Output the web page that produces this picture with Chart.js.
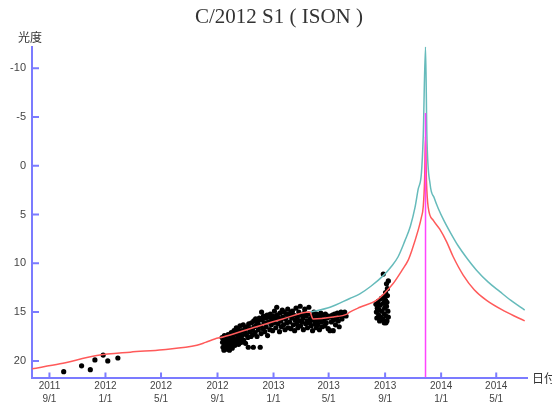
<!DOCTYPE html>
<html>
<head>
<meta charset="utf-8">
<script src="https://cdn.jsdelivr.net/npm/chart.js@4/dist/chart.umd.min.js"></script>
<style>
  html, body { margin: 0; padding: 0; background: #fff; }
  canvas { display: block; }
</style>
</head>
<body>
<canvas id="cometChart" width="552" height="404"></canvas>
<script>
// days counted from 2011-09-01, values are magnitudes
const tickDays = [0, 122, 243, 366, 488, 608, 731, 853, 973];
const tickYears = ["2011", "2012", "2012", "2012", "2013", "2013", "2013", "2014", "2014"];
const tickDates = ["9/1", "1/1", "5/1", "9/1", "1/1", "5/1", "9/1", "1/1", "5/1"];
const magTicks = [-10, -5, 0, 5, 10, 15, 20];

// red prediction curve
const redDays = [-38, 23, 103, 176, 247, 321, 340, 360, 378, 437, 508, 567, 574, 618, 648, 654, 676, 712, 748, 768, 781, 789, 803, 810, 814, 817, 819, 821, 825, 836, 850, 865, 879, 901, 925, 952, 991, 1035];
const redMags = [20.8, 20.3, 19.45, 19.1, 18.85, 18.4, 18.1, 17.75, 17.55, 16.7, 15.7, 15.0, 15.7, 15.5, 15.2, 15.0, 14.5, 13.8, 12.1, 10.7, 9.7, 8.7, 6.6, 5.3, 4.2, 1.5, -3.0, 1.5, 4.3, 5.6, 6.5, 7.8, 9.3, 11.2, 12.7, 13.8, 14.9, 15.9];

// teal prediction curve
const tealDays = [567, 611, 654, 676, 700, 727, 745, 759, 774, 786, 796, 803, 810, 814, 819, 822, 829, 838, 847, 860, 875, 890, 908, 930, 955, 981, 1005, 1035];
const tealMags = [15.0, 14.5, 13.6, 13.13, 12.35, 11.26, 10.3, 9.35, 7.7, 6.2, 4.3, 2.4, 0.8, -3.0, -12.2, -3.0, 1.9, 3.3, 4.4, 5.7, 7.0, 8.2, 9.4, 10.7, 11.9, 12.9, 13.8, 14.8];

// perihelion marker
const periDays = [819, 819];
const periMags = [21.7, -5.4];

// observations
const obsDays = [
  31, 70, 89, 99, 117, 127, 149,
  376, 377, 378, 379, 380, 381, 382, 383, 384, 385,
  386, 387, 388, 389, 390, 391, 392, 393, 394, 395,
  396, 397, 398, 399, 400,
  402, 403, 404, 406, 407, 408, 410, 411, 412, 414,
  415, 416, 418, 419, 420, 422, 423, 425, 426, 427,
  429, 430, 432, 433, 434, 436, 437, 439, 440, 444,
  442, 443, 445, 446, 448, 449, 451, 452, 454, 455,
  457, 459, 460, 461, 462, 463, 465, 466, 468, 469,
  471, 472, 474, 475, 477, 478, 480,
  481, 483, 484, 486, 487, 489, 490, 492, 493, 495,
  496, 498, 499, 501, 502, 504, 505, 507, 508, 510,
  511, 513, 514, 516, 517, 519, 520,
  522, 523, 525, 526, 528, 529, 531, 532, 534, 535,
  537, 538, 540, 541, 543, 544, 546, 547, 549, 550,
  552, 553, 555, 556, 558, 559, 561, 562, 564, 565,
  567, 568,
  570, 572, 573, 575, 576, 578, 579, 581, 582, 584,
  585, 587, 588, 590, 591, 593, 594, 596, 598, 600,
  601, 603, 605, 607, 608,
  611, 612, 614, 616, 618, 619, 621, 623, 625, 627,
  629, 631, 633, 635, 637, 640, 643, 646,
  727, 738, 734, 736, 732,
  711, 712, 713, 714, 716, 717, 718, 719, 720, 721,
  723, 724, 726, 727, 728, 729, 730, 731, 732, 733,
  734, 735, 736, 737, 738, 735, 729, 733
];
const obsMags = [
  21.1, 20.5, 20.9, 19.9, 19.4, 20.0, 19.7,
  17.6, 18.1, 18.6, 17.9, 18.9, 17.4, 18.3, 17.8, 18.7, 18.2,
  17.5, 18.8, 18.0, 17.3, 18.5, 17.7, 18.9, 18.2, 17.6, 18.4,
  17.1, 18.0, 18.7, 17.5, 18.2,
  16.9, 17.8, 18.4, 17.2, 16.6, 18.0, 17.5, 16.8, 18.3, 17.1,
  16.4, 17.7, 18.1, 16.9, 17.4, 16.3, 17.9, 17.0, 16.6, 18.2,
  17.3, 16.5, 17.6, 18.6, 16.2, 17.0, 16.7, 17.5, 16.1, 18.6,
  16.8, 17.3, 15.9, 16.5, 17.1, 15.7, 16.3, 17.5, 16.0, 16.8,
  15.6, 18.6, 16.4, 17.2, 15.0, 15.8, 16.7, 15.4, 16.1, 17.0,
  15.6, 16.5, 15.3, 17.4, 16.0, 15.5, 16.8,
  15.2, 16.3, 15.8, 16.9, 15.4, 16.1, 14.9, 15.7, 16.6, 14.5,
  15.3, 16.2, 15.6, 17.0, 15.1, 15.9, 16.5, 14.8, 15.5, 16.3,
  15.0, 16.8, 15.7, 15.2, 16.1, 14.7, 16.6,
  15.4, 16.0, 15.1, 16.7, 15.6, 14.9, 16.3, 15.3, 16.9, 15.8,
  14.6, 16.2, 15.5, 16.6, 15.0, 15.9, 14.4, 16.4, 15.3, 16.0,
  15.6, 16.8, 15.1, 14.7, 16.2, 15.4, 15.9, 16.6, 15.2, 14.5,
  16.1, 15.7,
  16.4, 15.4, 16.9, 15.8, 15.0, 16.2, 15.5, 16.6, 15.2, 15.9,
  16.3, 15.4, 16.8, 15.7, 15.1, 16.0, 16.5, 15.3, 15.8, 16.4,
  15.2, 16.1, 15.6, 16.7, 15.4,
  16.9, 15.5, 16.0, 15.3, 16.9, 15.8, 15.2, 16.3, 15.6, 15.1,
  15.9, 16.5, 15.4, 15.0, 15.7, 15.3, 15.0, 15.4,
  11.1, 11.8, 12.1, 12.6, 13.0,
  14.2, 15.0, 15.6, 14.6, 13.9, 15.3, 14.8, 15.9, 14.3, 15.5,
  13.6, 14.9, 15.7, 14.1, 13.4, 15.2, 14.6, 16.0, 13.8, 15.4,
  14.4, 15.9, 13.3, 14.9, 15.5, 14.0, 16.1, 16.1
];

const axisColor = "#7b7bff";
const toPoints = (xs, ys) => xs.map((x, i) => ({ x: x, y: ys[i] }));

// title, inward tick marks and the two axis captions
const axisDecor = {
  id: "axisDecor",
  afterDraw(chart) {
    const { ctx, chartArea, scales } = chart;
    ctx.save();
    ctx.strokeStyle = axisColor;
    ctx.lineWidth = 2;
    ctx.beginPath();
    for (const t of scales.y.ticks) {
      const y = scales.y.getPixelForValue(t.value);
      ctx.moveTo(chartArea.left, y);
      ctx.lineTo(chartArea.left + 7, y);
    }
    for (const t of scales.x.ticks) {
      const x = scales.x.getPixelForValue(t.value);
      ctx.moveTo(x, chartArea.bottom);
      ctx.lineTo(x, chartArea.bottom - 5);
    }
    ctx.stroke();
    ctx.textBaseline = "middle";
    ctx.fillStyle = "#333";
    ctx.textAlign = "center";
    ctx.font = '21px "Liberation Serif"';
    ctx.fillText("C/2012 S1 ( ISON )", 279, 17);
    ctx.textAlign = "left";
    ctx.font = '12px "Noto Sans CJK JP"';
    ctx.fillText("光度", 18, 37);
    ctx.fillText("日付", 532, 378);
    ctx.restore();
  }
};

new Chart(document.getElementById("cometChart"), {
  type: "line",
  data: {
    datasets: [
      {
        data: toPoints(periDays, periMags),
        borderColor: "#ff44ff",
        borderWidth: 1.5,
        pointRadius: 0
      },
      {
        data: toPoints(redDays, redMags),
        borderColor: "#ff5a5a",
        borderWidth: 1.5,
        pointRadius: 0,
        cubicInterpolationMode: "monotone"
      },
      {
        data: toPoints(tealDays, tealMags),
        borderColor: "#66bbbb",
        borderWidth: 1.5,
        pointRadius: 0,
        cubicInterpolationMode: "monotone"
      },
      {
        data: toPoints(obsDays, obsMags),
        showLine: false,
        pointRadius: 2.6,
        pointBackgroundColor: "#000",
        pointBorderWidth: 0
      }
    ]
  },
  options: {
    responsive: false,
    animation: false,
    layout: { padding: { left: 0, right: 25, top: 46.7, bottom: 0 } },
    plugins: {
      legend: { display: false },
      tooltip: { enabled: false },
      title: { display: false }
    },
    scales: {
      x: {
        type: "linear",
        min: -38,
        max: 1040,
        afterBuildTicks: (scale) => { scale.ticks = tickDays.map(v => ({ value: v })); },
        afterFit: (scale) => { scale.height = 26.5; },
        grid: { display: false, drawTicks: false, tickLength: 0 },
        border: { display: true, color: axisColor, width: 2 },
        ticks: {
          autoSkip: false,
          maxRotation: 0,
          padding: 2,
          color: "#444",
          font: { family: "Liberation Sans", size: 10, lineHeight: 1.3 },
          callback: (value) => {
            const i = tickDays.indexOf(value);
            return i < 0 ? "" : [tickYears[i], tickDates[i]];
          }
        }
      },
      y: {
        type: "linear",
        reverse: true,
        min: -12.2,
        max: 21.7,
        afterBuildTicks: (scale) => { scale.ticks = magTicks.map(v => ({ value: v })); },
        afterFit: (scale) => { scale.width = 32; },
        grid: { display: false, drawTicks: false, tickLength: 0 },
        border: { display: true, color: axisColor, width: 2 },
        ticks: {
          padding: 6,
          color: "#444",
          font: { family: "Liberation Sans", size: 11 }
        }
      }
    }
  },
  plugins: [axisDecor]
});
</script>
</body>
</html>
